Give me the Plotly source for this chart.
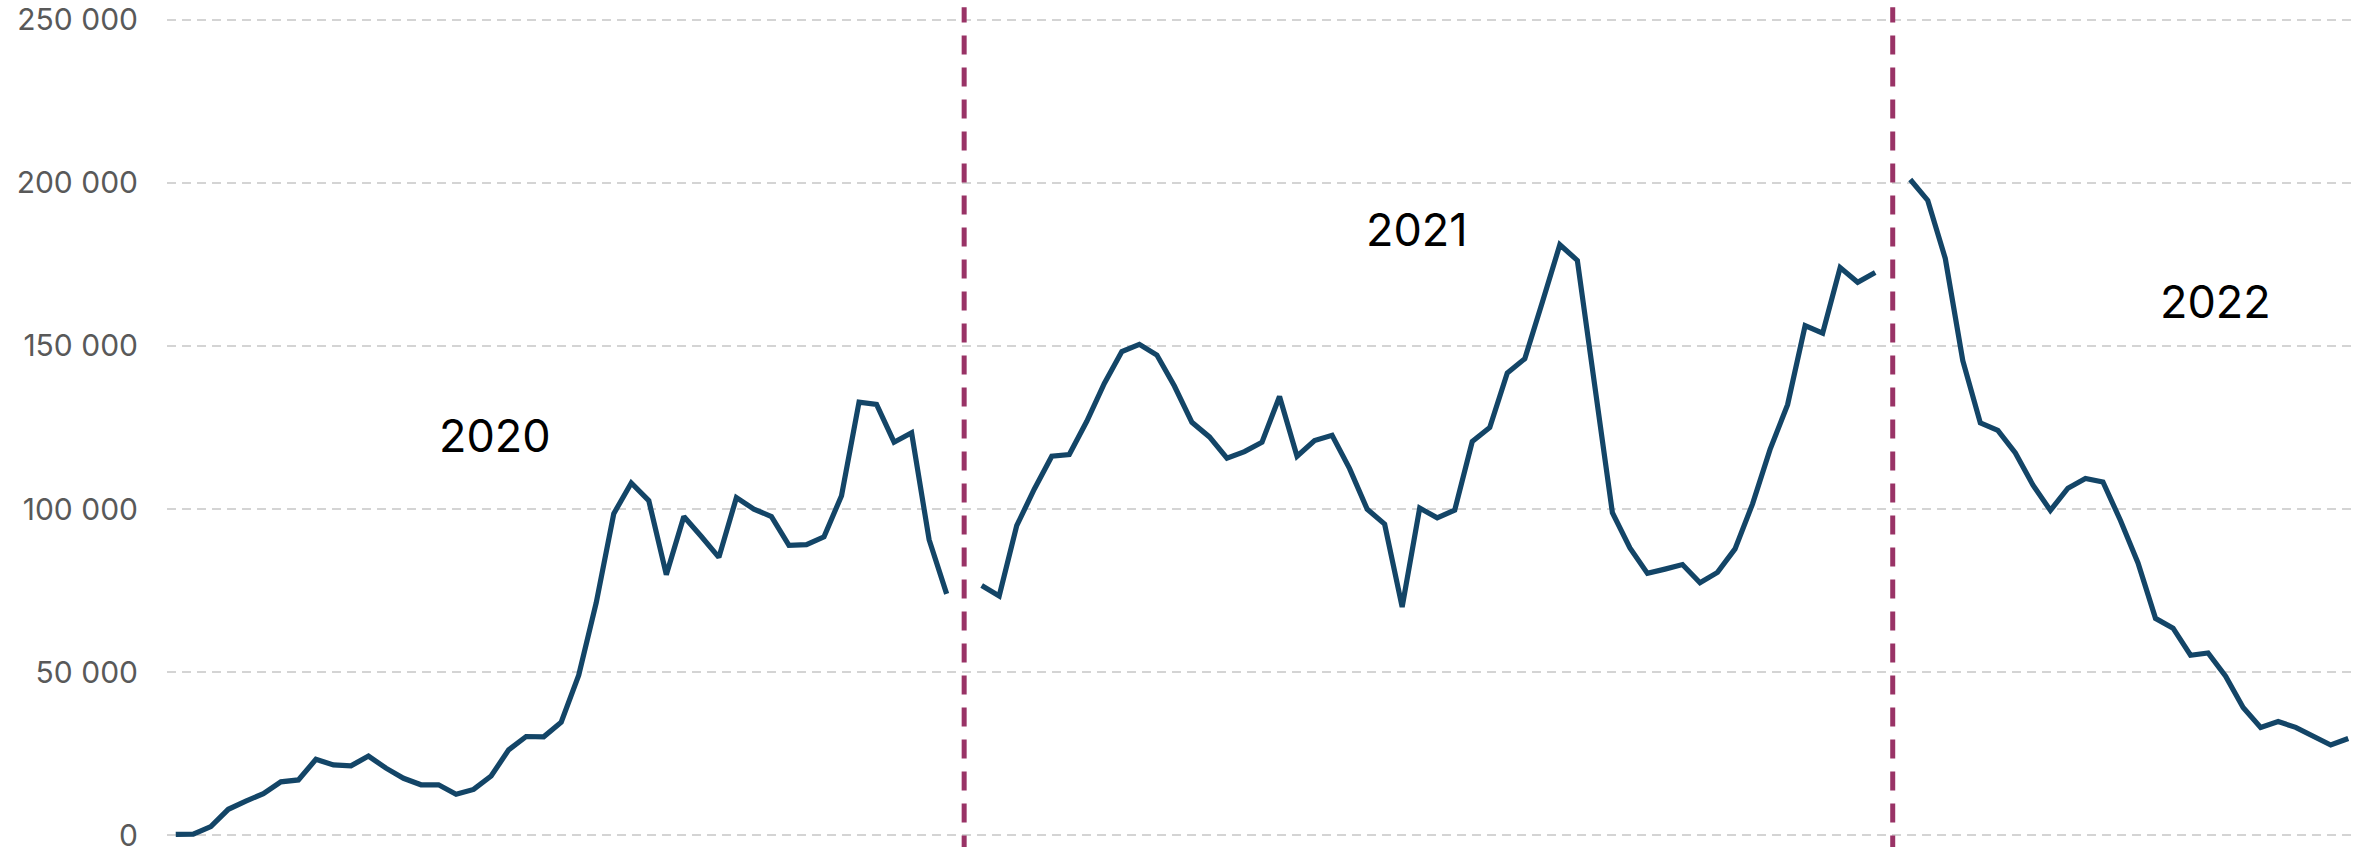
import plotly.graph_objects as go

# ---- data ----
years = ["2020", "2021", "2022"]

values_2020 = [300, 400, 2700, 8000, 10500, 12800, 16400, 17000, 23300, 21600,
               21300, 24300, 20600, 17500, 15500, 15500, 12600, 14100, 18200, 26200,
               30300, 30200, 34700, 49100, 71300, 98600, 108000, 102600, 79900, 97700,
               91600, 85200, 103500, 100000, 97700, 88900, 89100, 91500, 104100, 132800,
               132100, 120500, 123400, 90600, 74000]

values_2021 = [76600, 73400, 94900, 106100, 116200, 116700, 126900, 138500, 148300, 150500,
               147200, 137700, 126600, 122100, 115600, 117600, 120500, 134500, 116200, 121000,
               122600, 112400, 100000, 95400, 70000, 100300, 97300, 99700, 120700, 125000,
               141700, 146100, 163400, 181000, 176200, 137200, 98900, 88100, 80300, 81600,
               83000, 77400, 80600, 87800, 101600, 118300, 132000, 156200, 153900, 174000,
               169500, 172500]

values_2022 = [201000, 194600, 176800, 145500, 126400, 124100, 117200, 107400, 99600, 106400,
               109400, 108300, 96500, 83500, 66500, 63500, 55200, 55900, 48800, 39200,
               33100, 34900, 33100, 30400, 27700, 29700]

y_ticks = [0, 50000, 100000, 150000, 200000, 250000]
y_tick_text = ["0", "50 000", "100 000", "150 000", "200 000", "250 000"]

series = [values_2020, values_2021, values_2022]

# ---- build x positions: one slot per week, one empty slot between years ----
fig = go.Figure()
start = 1
separators = []
for i, vals in enumerate(series):
    xs = list(range(start, start + len(vals)))
    fig.add_trace(go.Scatter(
        x=xs, y=vals, mode="lines",
        line=dict(color="#134567", width=5.2),
        showlegend=False, hoverinfo="skip",
    ))
    end = start + len(vals) - 1
    if i < len(series) - 1:
        separators.append(end + 1)
    start = end + 2

# vertical dashed separators
for sx in separators:
    fig.add_shape(type="line", xref="x", yref="paper",
                  x0=sx, x1=sx, y0=-0.02, y1=1.012,
                  line=dict(color="#993366", width=5, dash="19px,13px"))

# year labels
label_x = [19.2, 71.85, 117.4]
label_y = [122400, 185600, 163500]
for name, lx, ly in zip(years, label_x, label_y):
    fig.add_annotation(x=lx, y=ly, text=name, showarrow=False,
                       xanchor="center", yanchor="middle",
                       font=dict(family="Inter", size=45, color="#000000"))

fig.update_layout(
    template="none",
    width=2377, height=847, autosize=False,
    margin=dict(l=167, r=20, t=17, b=9, pad=0),
    plot_bgcolor="white", paper_bgcolor="white",
    xaxis=dict(range=[0.5, 125.5], showgrid=False, zeroline=False, automargin=False,
               showticklabels=False, showline=False, ticks=""),
    yaxis=dict(range=[-800, 250800], tickvals=y_ticks, ticktext=y_tick_text,
               automargin=False, ticklabeloverflow="allow",
               showgrid=True, gridcolor="#D4D4D4", gridwidth=1.6, griddash="9px,6px",
               zeroline=False, showline=False, ticks="",
               ticklabelstandoff=28,
               tickfont=dict(family="Inter", size=30, color="#595959")),
)

fig.write_html("out.html", config={"displayModeBar": False},
               post_script="document.body.style.margin='0';")
